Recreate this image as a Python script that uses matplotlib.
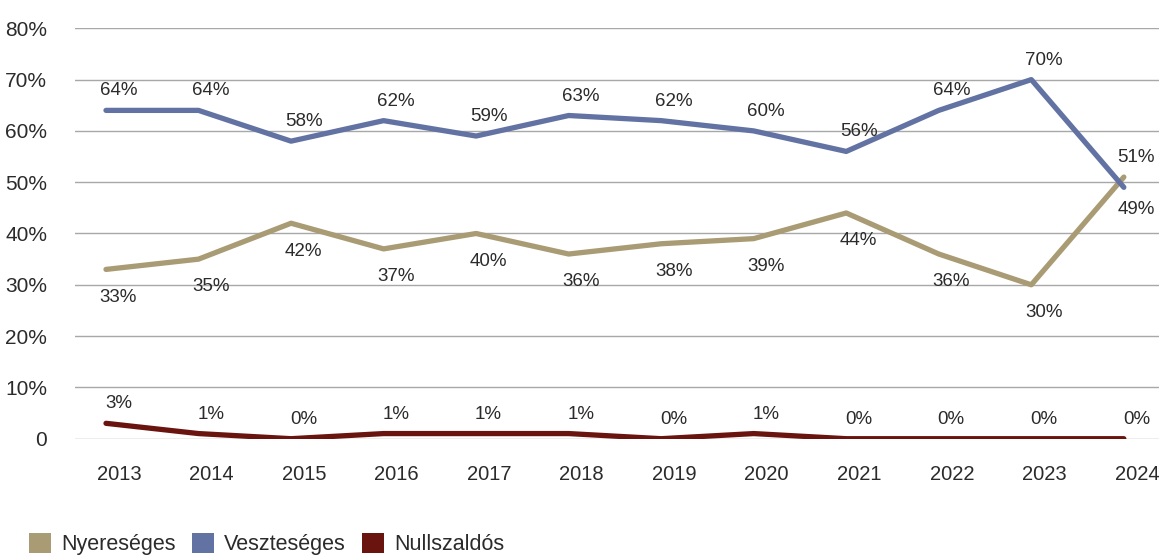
import matplotlib
matplotlib.use("Agg")
import matplotlib.pyplot as plt
import matplotlib.transforms as mtransforms
from matplotlib.patches import Patch

years = ["2013", "2014", "2015", "2016", "2017", "2018", "2019", "2020", "2021", "2022", "2023", "2024"]
nyereseges = [33, 35, 42, 37, 40, 36, 38, 39, 44, 36, 30, 51]
veszteseges = [64, 64, 58, 62, 59, 63, 62, 60, 56, 64, 70, 49]
nullszaldos = [3, 1, 0, 1, 1, 1, 0, 1, 0, 0, 0, 0]
series_names = ["Nyereséges", "Veszteséges", "Nullszaldós"]
yticks = [0, 10, 20, 30, 40, 50, 60, 70, 80]
ytick_labels = ["0", "10%", "20%", "30%", "40%", "50%", "60%", "70%", "80%"]

c_tan = "#a99b74"
c_blue = "#6272a3"
c_red = "#6a140f"
c_text = "#2b2b2b"
c_grid = "#a8a8a8"

plt.rcParams['font.family'] = ['Liberation Sans', 'DejaVu Sans']

W, H = 1159, 558
fig = plt.figure(figsize=(W / 100, H / 100), dpi=100)
ax = fig.add_axes([75 / W, (H - 438.7) / H, (W - 75) / W, 410.4 / H])

x = list(range(len(years)))
lw = 3.8
ax.plot(x, nullszaldos, color=c_red, lw=lw, solid_capstyle='round', solid_joinstyle='round', zorder=3)
ax.plot(x, nyereseges, color=c_tan, lw=lw, solid_capstyle='round', solid_joinstyle='round', zorder=4)
ax.plot(x, veszteseges, color=c_blue, lw=lw, solid_capstyle='round', solid_joinstyle='round', zorder=5)

ax.set_xlim(-0.335, 11.38)
ax.set_ylim(0, 80)
ax.set_yticks(yticks)
ax.set_yticklabels(ytick_labels)
ax.set_xticks(x)
ax.set_xticklabels(years)
ax.yaxis.grid(True, color=c_grid, lw=1.0)
ax.set_axisbelow(True)
for s in ax.spines.values():
    s.set_visible(False)
ax.tick_params(axis='both', length=0, colors=c_text)
ax.tick_params(axis='y', pad=20, labelsize=15)
ax.tick_params(axis='x', pad=19, labelsize=14.5)
offset = mtransforms.ScaledTranslation(13 / 100, 0, fig.dpi_scale_trans)
for lab in ax.get_xticklabels():
    lab.set_transform(lab.get_transform() + offset)

fs = 13.5
last = len(years) - 1
for i in x:
    # Veszteseges: above, except last which goes below
    dy_b = 14 if i != last else -16
    ax.annotate(f"{veszteseges[i]}%", (i, veszteseges[i]), xytext=(9, dy_b), textcoords='offset points',
                ha='center', va='center', fontsize=fs, color=c_text, zorder=6)
    dy_t = -20 if i != last else 14
    ax.annotate(f"{nyereseges[i]}%", (i, nyereseges[i]), xytext=(9, dy_t), textcoords='offset points',
                ha='center', va='center', fontsize=fs, color=c_text, zorder=6)
    ax.annotate(f"{nullszaldos[i]}%", (i, nullszaldos[i]), xytext=(9, 14), textcoords='offset points',
                ha='center', va='center', fontsize=fs, color=c_text, zorder=6)

handles = [Patch(facecolor=c, edgecolor='none') for c in (c_tan, c_blue, c_red)]
fig.legend(handles, series_names, loc='lower left', bbox_to_anchor=(20 / W, -6 / H),
           ncol=3, frameon=False, fontsize=15.5, handlelength=1.05, handleheight=1.05,
           handletextpad=0.45, columnspacing=0.75, labelcolor=c_text, borderaxespad=0)

fig.savefig("out.png", dpi=100)
